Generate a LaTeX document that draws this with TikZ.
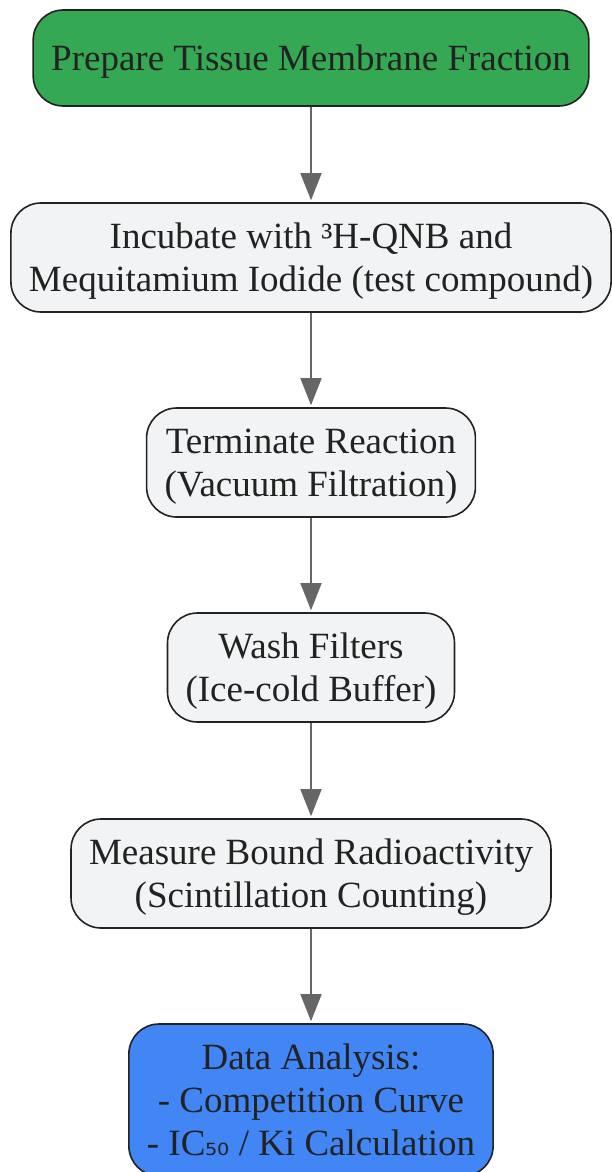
\documentclass[tikz,border=0pt]{standalone}
\usepackage{fontspec}
\setmainfont{Liberation Serif}
\newfontfamily\subfont{DejaVu Sans}
\usetikzlibrary{arrows.meta}
\definecolor{stepgreen}{HTML}{34A853}
\definecolor{stepgray}{HTML}{F1F3F4}
\definecolor{stepblue}{HTML}{4285F4}
\definecolor{edgegray}{HTML}{666666}
\definecolor{textdark}{HTML}{222222}
\tikzstyle{stepbox}=[rectangle, rounded corners=30pt, draw=textdark, line width=1.6pt, fill=stepgray,
    text=textdark, align=center, inner xsep=18pt, minimum height=109pt,
    font=\fontsize{37}{43}\selectfont, text depth=-8pt]
\tikzstyle{flow}=[draw=edgegray, line width=1.8pt, -{Triangle[length=27pt,width=21pt]}]

\begin{document}
\begin{tikzpicture}
        \useasboundingbox (0,0) rectangle (612pt,-1172pt);

        \node[stepbox, fill=stepgreen, minimum height=96pt] (prep) at (311pt,-58pt) {Prepare Tissue Membrane Fraction};
        \node[stepbox] (incub) at (311pt,-257.5pt) {Incubate with ³H-QNB and\\Mequitamium Iodide (test compound)};
        \node[stepbox] (term) at (311pt,-462.5pt) {Terminate Reaction\\(Vacuum Filtration)};
        \node[stepbox] (wash) at (311pt,-667.5pt) {Wash Filters\\(Ice-cold Buffer)};
        \node[stepbox] (meas) at (311pt,-873.5pt) {Measure Bound Radioactivity\\(Scintillation Counting)};
        \node[stepbox, fill=stepblue, minimum height=152pt, text depth=0pt] (anal) at (311pt,-1100pt) {Data Analysis:\\- Competition Curve\\- IC{\subfont\fontsize{30}{36}\selectfont ₅₀} / Ki Calculation};

        % connect the steps top to bottom
        \foreach \a/\b in {prep/incub, incub/term, term/wash, wash/meas, meas/anal} {
            \draw[flow] (\a.south) -- ([yshift=2pt]\b.north);
        }
\end{tikzpicture}
\end{document}
